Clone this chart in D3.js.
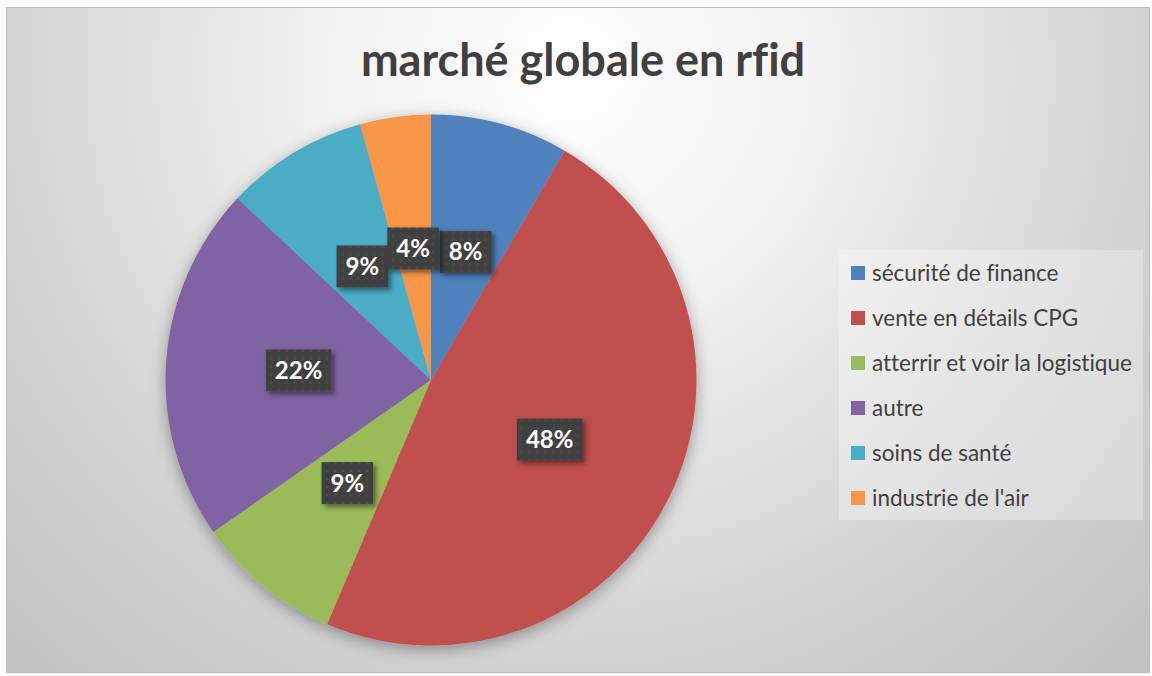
<!DOCTYPE html>
<html>
<head>
<meta charset="utf-8">
<script src="https://cdn.jsdelivr.net/npm/d3@7/dist/d3.min.js"></script>
<style>
  body { margin: 0; background: #ffffff; }
  svg { display: block; font-family: Lato, "Open Sans", sans-serif; font-variant-ligatures: none; }
</style>
</head>
<body>
<div id="chart"></div>
<script>
// chart data
const title = "marché globale en rfid";
const categories = ["sécurité de finance", "vente en détails CPG", "atterrir et voir la logistique",
                    "autre", "soins de santé", "industrie de l'air"];
const values = [8.4, 48, 8.9, 21.7, 8.7, 4.3];
const colors = ["#4f81bd", "#c0504d", "#9bbb59", "#8064a2", "#4bacc6", "#f79646"];

const width = 1152, height = 676;
const svg = d3.select("#chart").append("svg")
    .attr("width", width)
    .attr("height", height);

const defs = svg.append("defs");

// background gradient, white around the title going grey at the edges
const bg = defs.append("radialGradient")
    .attr("id", "bg")
    .attr("gradientUnits", "userSpaceOnUse")
    .attr("cx", 570).attr("cy", 70).attr("r", 820);
[[0, "#ffffff"], [0.3, "#f2f2f2"], [0.52, "#e1e1e1"], [0.68, "#d5d5d5"], [0.8, "#cdcdcd"], [1, "#c2c2c2"]]
    .forEach(s => bg.append("stop").attr("offset", s[0]).attr("stop-color", s[1]));

// pie shadow
const sh = defs.append("filter").attr("id", "pieShadow")
    .attr("x", "-20%").attr("y", "-20%").attr("width", "140%").attr("height", "140%");
sh.append("feDropShadow").attr("dx", 0).attr("dy", 4).attr("stdDeviation", 8)
    .attr("flood-color", "#000").attr("flood-opacity", 0.35);

// label box shadow
const lsh = defs.append("filter").attr("id", "lblShadow")
    .attr("x", "-30%").attr("y", "-30%").attr("width", "170%").attr("height", "170%");
lsh.append("feDropShadow").attr("dx", 3).attr("dy", 3).attr("stdDeviation", 2.5)
    .attr("flood-color", "#000").attr("flood-opacity", 0.45);

// dotted texture of the label boxes
const pat = defs.append("pattern").attr("id", "dots")
    .attr("patternUnits", "userSpaceOnUse").attr("width", 8).attr("height", 8);
pat.append("rect").attr("width", 8).attr("height", 8).attr("fill", "#404040");
pat.append("circle").attr("cx", 4).attr("cy", 4).attr("r", 1.6).attr("fill", "#4b4b4b");

// chart area
svg.append("rect")
    .attr("x", 6.5).attr("y", 7.5)
    .attr("width", 1143).attr("height", 665)
    .attr("fill", "url(#bg)")
    .attr("stroke", "#bcbcbc");

// title
svg.append("text")
    .attr("x", 583).attr("y", 76)
    .attr("text-anchor", "middle")
    .attr("font-size", 45)
    .attr("font-weight", "bold")
    .attr("fill", "#404040")
    .text(title);

// pie
const cx = 431, cy = 380, r = 265.5;
const pie = d3.pie().sort(null).value(d => d);
const arcs = pie(values);
const arc = d3.arc().innerRadius(0).outerRadius(r);
const labelArc = d3.arc().innerRadius(r * 0.5).outerRadius(r * 0.5);

const g = svg.append("g").attr("transform", `translate(${cx},${cy})`);

g.append("g")
    .attr("filter", "url(#pieShadow)")
    .selectAll("path")
    .data(arcs)
    .enter()
    .append("path")
    .attr("d", arc)
    .attr("fill", (d, i) => colors[i]);

// data labels
const labels = g.selectAll("g.label")
    .data(arcs)
    .enter()
    .append("g")
    .attr("class", "label")
    .attr("transform", d => `translate(${labelArc.centroid(d)})`);

labels.each(function(d) {
    const lg = d3.select(this);
    const box = lg.append("rect")
        .attr("fill", "url(#dots)")
        .attr("filter", "url(#lblShadow)");
    const t = lg.append("text")
        .attr("text-anchor", "middle")
        .attr("dy", "0.36em")
        .attr("font-size", 24)
        .attr("font-weight", "bold")
        .attr("fill", "#ffffff")
        .text(Math.round(d.data) + "%");
    const w = t.node().getComputedTextLength() + 18;
    box.attr("x", -w / 2).attr("y", -21).attr("width", w).attr("height", 42);
});

// legend
const legend = svg.append("g");
legend.append("rect")
    .attr("x", 839).attr("y", 250)
    .attr("width", 304).attr("height", 270)
    .attr("fill", "#ffffff")
    .attr("fill-opacity", 0.3);

const rowY = d3.scalePoint().domain(categories).range([273, 498]);

const items = legend.selectAll("g.item")
    .data(categories)
    .enter()
    .append("g")
    .attr("class", "item")
    .attr("transform", d => `translate(851,${rowY(d)})`);

items.append("rect")
    .attr("x", 0).attr("y", -7)
    .attr("width", 14).attr("height", 14)
    .attr("fill", (d, i) => colors[i]);

items.append("text")
    .attr("x", 21).attr("y", 7.5)
    .attr("font-size", 22.5)
    .attr("fill", "#404040")
    .text(d => d);
</script>
</body>
</html>
